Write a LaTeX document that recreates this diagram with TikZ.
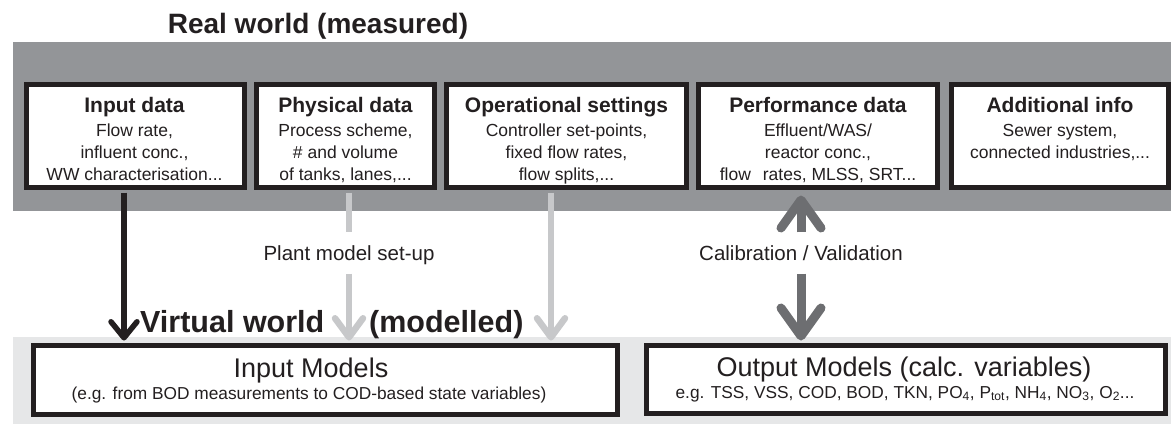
\documentclass[tikz,border=0pt]{standalone}
\usepackage{fontspec}
\setmainfont{Liberation Sans}
\usetikzlibrary{arrows.meta,calc}

\definecolor{ink}{HTML}{231F20}
\definecolor{banddark}{HTML}{939598}
\definecolor{bandlight}{HTML}{E6E7E8}
\definecolor{arrowlight}{HTML}{C7C8CA}
\definecolor{arrowdark}{HTML}{6D6E71}

\newcommand\hdrfont{\bfseries\fontsize{21}{25}\selectfont}

\begin{document}
\begin{tikzpicture}[x=1pt,y=-1pt,
  databox/.style={draw=ink, line width=5pt, fill=white, inner sep=0pt, minimum height=103pt},
  modelbox/.style={draw=ink, line width=5pt, fill=white, inner sep=0pt},
  boxtext/.style={anchor=base, inner sep=0pt, text=ink, font=\fontsize{17.5}{22}\selectfont},
  worldtitle/.style={anchor=base, inner sep=0pt, text=ink, font=\bfseries\fontsize{28}{32}\selectfont},
  virttitle/.style={anchor=base west, inner sep=0pt, text=ink, font=\bfseries\fontsize{30.5}{35}\selectfont},
  modeltitle/.style={anchor=base, inner sep=0pt, text=ink, font=\fontsize{27}{30}\selectfont},
  modelnote/.style={anchor=base, inner sep=0pt, text=ink, font=\fontsize{17.3}{20}\selectfont},
  flowlabel/.style={inner xsep=2pt, inner ysep=13.5pt, text height=14pt, text depth=0pt, text=ink, font=\fontsize{20.5}{24}\selectfont},
  blackarrow/.style={draw=ink, line width=5.5pt, -{Straight Barb[round, length=16pt, width=26pt]}},
  lightshaft/.style={draw=arrowlight, line width=6.5pt},
  lightarrow/.style={lightshaft, -{Straight Barb[round, length=19pt, width=28pt]}},
  darkarrow/.style={draw=arrowdark, line width=9pt, -{Straight Barb[round, length=28pt, width=40pt]}}
]
\useasboundingbox (0,0) rectangle (1171,424);

% background bands: measured (top) and modelled (bottom)
\fill[banddark] (12.7,41.7) rectangle (1171,211);
\fill[bandlight] (12.7,337) rectangle (1171,424);

% data boxes of the real world
\node[databox, minimum width=218pt] (indata) at (135.5,136) {};
\node[databox, minimum width=178pt] (phys)   at (345.5,136) {};
\node[databox, minimum width=240pt] (oper)   at (566.5,136) {};
\node[databox, minimum width=239pt] (perf)   at (818,136) {};
\node[databox, minimum width=217pt] (addi)   at (1060,136) {};

% model boxes of the virtual world
\node[modelbox, minimum width=584pt, minimum height=69pt] (inmod)  at (325.5,380) {};
\node[modelbox, minimum width=519pt, minimum height=68pt] (outmod) at (906,379.5) {};

% connector labels
\node[flowlabel] (setup) at (349,253) {Plant model set-up};
\node[flowlabel] (calib) at (801,253) {Calibration / Validation};

% input data feed the input models
\path ($(indata.south)+(-11.5,2.5)$) coordinate (inTop);
\draw[blackarrow] (inTop) -- ($(inTop |- inmod.north)+(0,-2.5)$);

% plant model set-up from physical data
\draw[lightshaft] ($(phys.south)+(3.5,2.5)$) -- (setup.north);
\draw[lightarrow] (setup.south) -- ($(setup.south |- inmod.north)+(0,-2.5)$);

% operational settings
\path ($(oper.south)+(-15.5,2.5)$) coordinate (opTop);
\draw[lightarrow] (opTop) -- ($(opTop |- inmod.north)+(0,-2.5)$);

% calibration / validation in both directions
\draw[darkarrow] (calib.north) -- ($(calib.north |- perf.south)+(0,5.5)$);
\draw[darkarrow] (calib.south) -- ($(calib.south |- outmod.north)+(0,-2.5)$);

% titles
\node[worldtitle] (realw) at (318,33) {Real world (measured)};
\node[virttitle] (virtw) at (140,332) {Virtual world};
\node[virttitle] (modw) at (369,332) {(modelled)};

% texts of the data boxes
\node[boxtext] (indataT) at (134.5,112) {\begin{tabular}[t]{@{}c@{}}\hdrfont Input data\\[2pt] Flow rate,\\ influent conc.,\\ WW characterisation...\end{tabular}};
\node[boxtext] (physT) at (345.5,112) {\begin{tabular}[t]{@{}c@{}}\hdrfont Physical data\\[2pt] Process scheme,\\ \# and volume\\ of tanks, lanes,...\end{tabular}};
\node[boxtext] (operT) at (566.5,112) {\begin{tabular}[t]{@{}c@{}}\hdrfont Operational settings\\[2pt] Controller set-points,\\ fixed flow rates,\\ flow splits,...\end{tabular}};
\node[boxtext] (perfT) at (818,112) {\begin{tabular}[t]{@{}c@{}}\hdrfont Performance data\\[2pt] Effluent/WAS/\\ reactor conc.,\\ flow\hspace{12pt}rates, MLSS, SRT...\end{tabular}};
\node[boxtext] (addiT) at (1060,112) {\begin{tabular}[t]{@{}c@{}}\hdrfont Additional info\\[2pt] Sewer system,\\ connected industries,...\end{tabular}};

% texts of the model boxes
\node[modeltitle] (inmodT) at (311,377) {Input Models};
\node[modelnote] (inmodN) at (309,399) {(e.g. from BOD measurements to COD-based state variables)};
\node[modeltitle] (outmodT) at (904,376) {Output Models (calc. variables)};
\node[modelnote] (outmodN) at (905,398) {e.g. TSS, VSS, COD, BOD, TKN, PO\textsubscript{4}, P\textsubscript{tot}, NH\textsubscript{4}, NO\textsubscript{3}, O\textsubscript{2}...};
\end{tikzpicture}
\end{document}
